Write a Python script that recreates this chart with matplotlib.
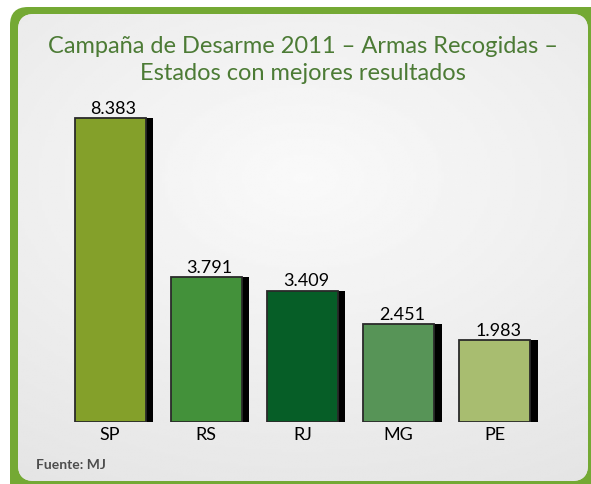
import numpy as np
import matplotlib.pyplot as plt
from matplotlib.patches import FancyBboxPatch

# data
estados = ["SP", "RS", "RJ", "MG", "PE"]
armas = [8383, 3791, 3409, 2451, 1983]
colores = ["#84a02a", "#43913a", "#065e27", "#579457", "#a8bd70"]

titulo = "Campaña de Desarme 2011 – Armas Recogidas –\nEstados con mejores resultados"
fuente = "Fuente: MJ"

FONT = ["Lato", "DejaVu Sans"]
plt.rcParams["font.family"] = FONT

W, H = 591, 485
fig = plt.figure(figsize=(W / 100, H / 100), dpi=100)

# background frame: green rounded box with light panel inside
bg = fig.add_axes([0, 0, 1, 1], zorder=-1)
bg.set_xlim(0, W)
bg.set_ylim(H, 0)
bg.axis("off")
outer = FancyBboxPatch((10, 8), 600, 500, boxstyle="round,pad=0,rounding_size=18",
                       facecolor="#74a934", edgecolor="none")
bg.add_patch(outer)
inner = FancyBboxPatch((18, 15), 570, 467, boxstyle="round,pad=0,rounding_size=16",
                       facecolor="#eeeeee", edgecolor="none")
bg.add_patch(inner)
gx, gy = np.meshgrid(np.linspace(-1, 1, 200), np.linspace(-1, 1, 200))
grad = 1 - 0.5 * np.sqrt((gx * 0.8) ** 2 + (gy + 0.3) ** 2)
im = bg.imshow(grad, extent=(18, 588, 482, 15), cmap="gray", vmin=-8.0, vmax=1.2,
               aspect="auto", zorder=1)
im.set_clip_path(inner)

# main bar axes
ax = fig.add_axes([62 / W, 62 / H, 481 / W, 323 / H])
ax.patch.set_alpha(0)
ymin = -380
x = np.arange(len(estados))
ancho = 0.74
ax.bar(x + 0.075, np.array(armas) - ymin, bottom=ymin, width=ancho,
       color="black", zorder=2)
ax.bar(x, np.array(armas) - ymin, bottom=ymin, width=ancho, color=colores,
       edgecolor="#2a2a2a", linewidth=1.3, zorder=3)
for xi, v in zip(x, armas):
    ax.annotate(f"{v:,}".replace(",", "."), (xi + 0.035, v), xytext=(0, 1.5),
                textcoords="offset points", ha="center", va="bottom",
                fontsize=13, color="black")

ax.set_xlim(-0.5, 4.5)
ax.set_ylim(ymin, 8930)
ax.set_xticks(x, estados, fontsize=13)
ax.tick_params(axis="x", length=0, pad=3)
ax.set_yticks([])
for s in ax.spines.values():
    s.set_visible(False)

fig.text(303 / W, 1 - 60 / H, titulo, ha="center", va="center", fontsize=17,
         color="#4c7b35", linespacing=1.3)
fig.text(36 / W, 1 - 465 / H, fuente, ha="left", va="center", fontsize=10,
         color="#4d4d4d", weight="bold")

fig.savefig("out.png", dpi=100)
